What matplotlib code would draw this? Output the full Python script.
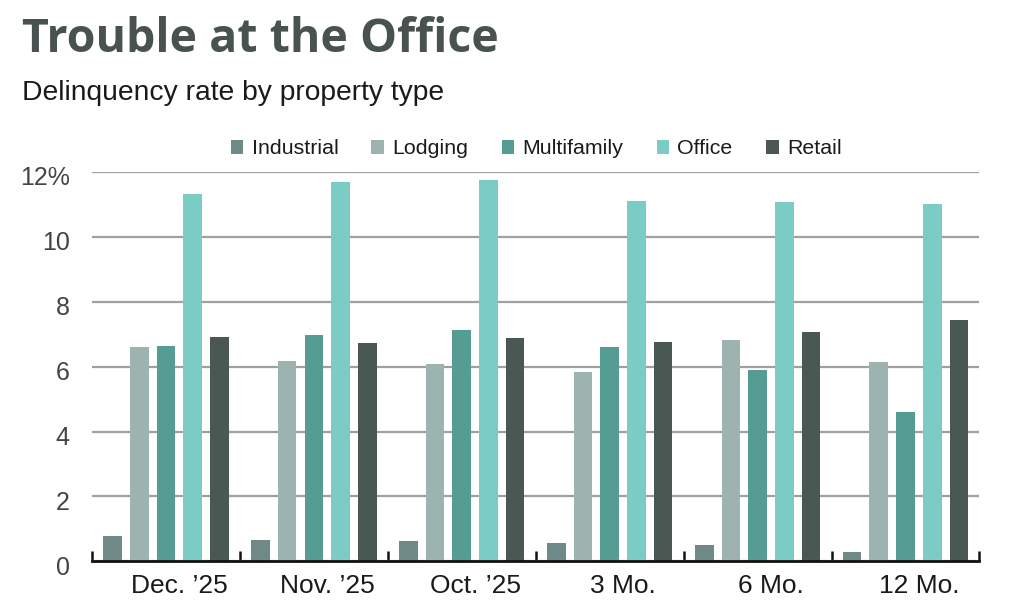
import matplotlib
matplotlib.use("Agg")
import matplotlib.pyplot as plt
import matplotlib.transforms as mtransforms
import numpy as np
from matplotlib.patches import Patch

categories = ["Dec. \u201925", "Nov. \u201925", "Oct. \u201925", "3 Mo.", "6 Mo.", "12 Mo."]
series_names = ["Industrial", "Lodging", "Multifamily", "Office", "Retail"]
industrial = [0.78, 0.65, 0.62, 0.55, 0.50, 0.30]
lodging = [6.60, 6.16, 6.08, 5.83, 6.82, 6.14]
multifamily = [6.64, 6.97, 7.13, 6.60, 5.90, 4.60]
office = [11.32, 11.68, 11.76, 11.10, 11.08, 11.02]
retail = [6.91, 6.74, 6.88, 6.76, 7.06, 7.43]
yticks = [0, 2, 4, 6, 8, 10, 12]
ytick_labels = ["0", "2", "4", "6", "8", "10", "12%"]

colors = ["#6f8a86", "#9db3b0", "#559c92", "#7accc4", "#4a5753"]
values = [industrial, lodging, multifamily, office, retail]

plt.rcParams['font.family'] = ['Liberation Sans', 'DejaVu Sans']

fig = plt.figure(figsize=(10.24, 6.14), dpi=100)
ax = fig.add_axes([0.0898, 0.0858, 0.9565 - 0.0898, 0.7199 - 0.0858])

n = len(categories)
centers = np.arange(n) + 0.5
width = 0.126
step = 0.1805
for k, (vals, c, name) in enumerate(zip(values, colors, series_names)):
    ax.bar(centers + (k - 2) * step, vals, width=width, color=c, zorder=3, label=name)

ax.set_xlim(0, n)
ax.set_ylim(0, 12)
ax.set_yticks(yticks)
ax.set_yticklabels(ytick_labels, fontsize=18, color="#444444")
ax.tick_params(axis='y', length=0, pad=16)
offset = mtransforms.ScaledTranslation(0, -4 / 100, fig.dpi_scale_trans)
for lab in ax.get_yticklabels():
    lab.set_horizontalalignment('right')
    lab.set_transform(lab.get_transform() + offset)

ax.set_xticks(centers + 0.09)
ax.set_xticklabels(categories, fontsize=19, color="#1a1a1a")
ax.set_xticks(np.arange(n + 1), minor=True)
ax.tick_params(axis='x', which='major', length=0, pad=9)
ax.tick_params(axis='x', which='minor', length=7, width=1.8, direction='in', color='#111111')

ax.grid(axis='y', color='#a0a0a0', linewidth=1.6, zorder=0)
ax.set_axisbelow(True)
for s in ['top', 'right', 'left']:
    ax.spines[s].set_visible(False)
ax.spines['bottom'].set_color('#111111')
ax.spines['bottom'].set_linewidth(2)
ax.spines['bottom'].set_zorder(4)

handles = [Patch(facecolor=c, edgecolor='none') for c in colors]
fig.legend(handles, series_names, loc='center', bbox_to_anchor=(536 / 1024, 1 - 149 / 614),
           ncol=5, frameon=False, fontsize=15.4, handlelength=0.6, handleheight=0.6,
           handletextpad=0.38, columnspacing=1.55, labelcolor="#1a1a1a")

fig.text(22 / 1024, 1 - 52 / 614, "Trouble at the Office", fontsize=33.5, fontweight='bold',
         color="#48524f", va='baseline', ha='left', family=['Open Sans', 'DejaVu Sans'])
fig.text(22 / 1024, 1 - 100 / 614, "Delinquency rate by property type", fontsize=20.3,
         color="#1a1a1a", va='baseline', ha='left')

fig.savefig("out.png", dpi=100)
